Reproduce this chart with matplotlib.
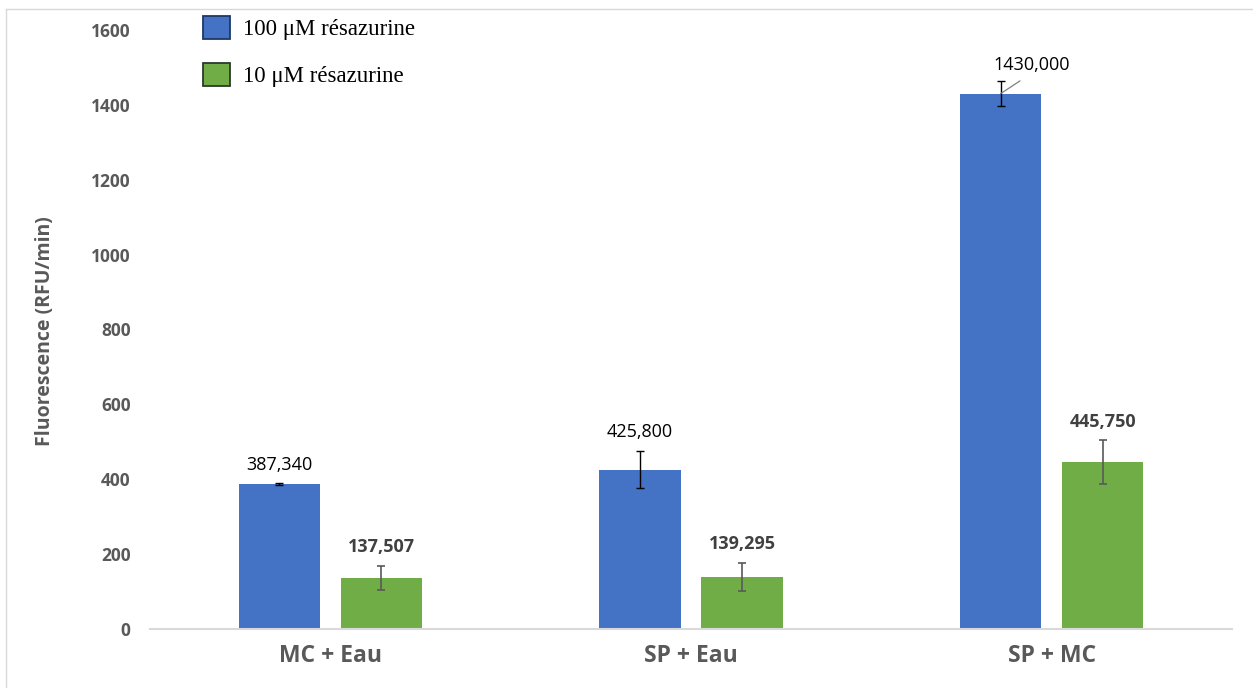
import matplotlib
matplotlib.use("Agg")
import matplotlib.pyplot as plt
from matplotlib.lines import Line2D
import numpy as np

categories = ["MC + Eau", "SP + Eau", "SP + MC"]
series_names = ["100 \u03bcM r\u00e9sazurine", "10 \u03bcM r\u00e9sazurine"]
vals_100 = [387.340, 425.800, 1430.000]
err_100 = [1.5, 50, 34]
vals_10 = [137.507, 139.295, 445.750]
err_10 = [32, 38, 58]
labels_100 = ["387,340", "425,800", "1430,000"]
labels_10 = ["137,507", "139,295", "445,750"]
yticks = [0, 200, 400, 600, 800, 1000, 1200, 1400, 1600]

BLUE = "#4472C4"
GREEN = "#70AD47"
GRAY = "#595959"

fig = plt.figure(figsize=(12.53, 6.88), dpi=100)
ax = fig.add_axes([150 / 1253, 59 / 688, 1082 / 1253, 599 / 688])

x = np.arange(len(categories))
w = 0.226
off = 0.1415
b1 = ax.bar(x - off, vals_100, w, color=BLUE, zorder=2)
b2 = ax.bar(x + off, vals_10, w, color=GREEN, zorder=2)
ax.errorbar(x - off, vals_100, yerr=err_100, fmt="none", ecolor="black",
            elinewidth=1.0, capsize=3.2, capthick=1.0, zorder=3)
ax.errorbar(x + off, vals_10, yerr=err_10, fmt="none", ecolor="#595959",
            elinewidth=1.2, capsize=3.0, capthick=1.2, zorder=3)

ax.set_xlim(-0.5, 2.5)
ax.set_ylim(0, 1600)
ax.set_yticks(yticks)
ax.set_yticklabels([str(t) for t in yticks])
ax.set_xticks(x)
ax.set_xticklabels(categories)

for s in ["top", "right", "left"]:
    ax.spines[s].set_visible(False)
ax.spines["bottom"].set_color("#D9D9D9")
ax.spines["bottom"].set_linewidth(1.5)
ax.tick_params(axis="both", length=0)
ax.tick_params(axis="y", pad=14)
ax.tick_params(axis="x", pad=11)
for lab in ax.get_yticklabels():
    lab.set_fontfamily("Open Sans")
    lab.set_fontweight("bold")
    lab.set_fontsize(12.5)
    lab.set_color(GRAY)
for lab in ax.get_xticklabels():
    lab.set_fontfamily("Open Sans")
    lab.set_fontweight("bold")
    lab.set_fontsize(16.5)
    lab.set_color(GRAY)

fig.text(45 / 1253, 1 - 331 / 688, "Fluorescence (RFU/min)", rotation=90,
         ha="center", va="center", fontfamily="Open Sans", fontweight="bold",
         fontsize=14, color=GRAY)

# data labels
for i in range(len(categories)):
    if i == 2:
        ax.annotate(labels_100[i], xy=(x[i] - off, vals_100[i]),
                    xytext=(22, 14.5), textcoords="offset points",
                    ha="center", va="bottom", fontsize=13,
                    fontfamily="Open Sans", color="black",
                    arrowprops=dict(arrowstyle="-", color="#7F7F7F", lw=0.9,
                                    shrinkA=6, shrinkB=0,
                                    relpos=(0.5, 0.0)))
    else:
        ax.annotate(labels_100[i], xy=(x[i] - off, vals_100[i] + err_100[i]),
                    xytext=(0, 7), textcoords="offset points",
                    ha="center", va="bottom", fontsize=13,
                    fontfamily="Open Sans", color="black")
    ax.annotate(labels_10[i], xy=(x[i] + off, vals_10[i] + err_10[i]),
                xytext=(0, 7), textcoords="offset points",
                ha="center", va="bottom", fontsize=13, fontweight="bold",
                fontfamily="Open Sans", color="#404040")

leg = ax.legend([b1, b2], series_names, loc="upper left",
                bbox_to_anchor=(203 / 1253, 1 - 16 / 688),
                bbox_transform=fig.transFigure, frameon=False,
                prop={"family": "Liberation Serif", "size": 16.5},
                handlelength=1.18, handleheight=1.18, handletextpad=0.57,
                labelspacing=0.98, borderpad=0, borderaxespad=0)
for h, ec in zip(leg.legend_handles, ["#1F3864", "#2B3A2A"]):
    h.set_edgecolor(ec)
    h.set_linewidth(1.3)

# figure border lines (top and left)
fig.add_artist(Line2D([6 / 1253, 1], [1 - 9 / 688, 1 - 9 / 688],
                      transform=fig.transFigure, color="#D9D9D9", lw=1))
fig.add_artist(Line2D([6 / 1253, 6 / 1253], [0, 1 - 9 / 688],
                      transform=fig.transFigure, color="#D9D9D9", lw=1))

fig.savefig("out.png", dpi=100)
